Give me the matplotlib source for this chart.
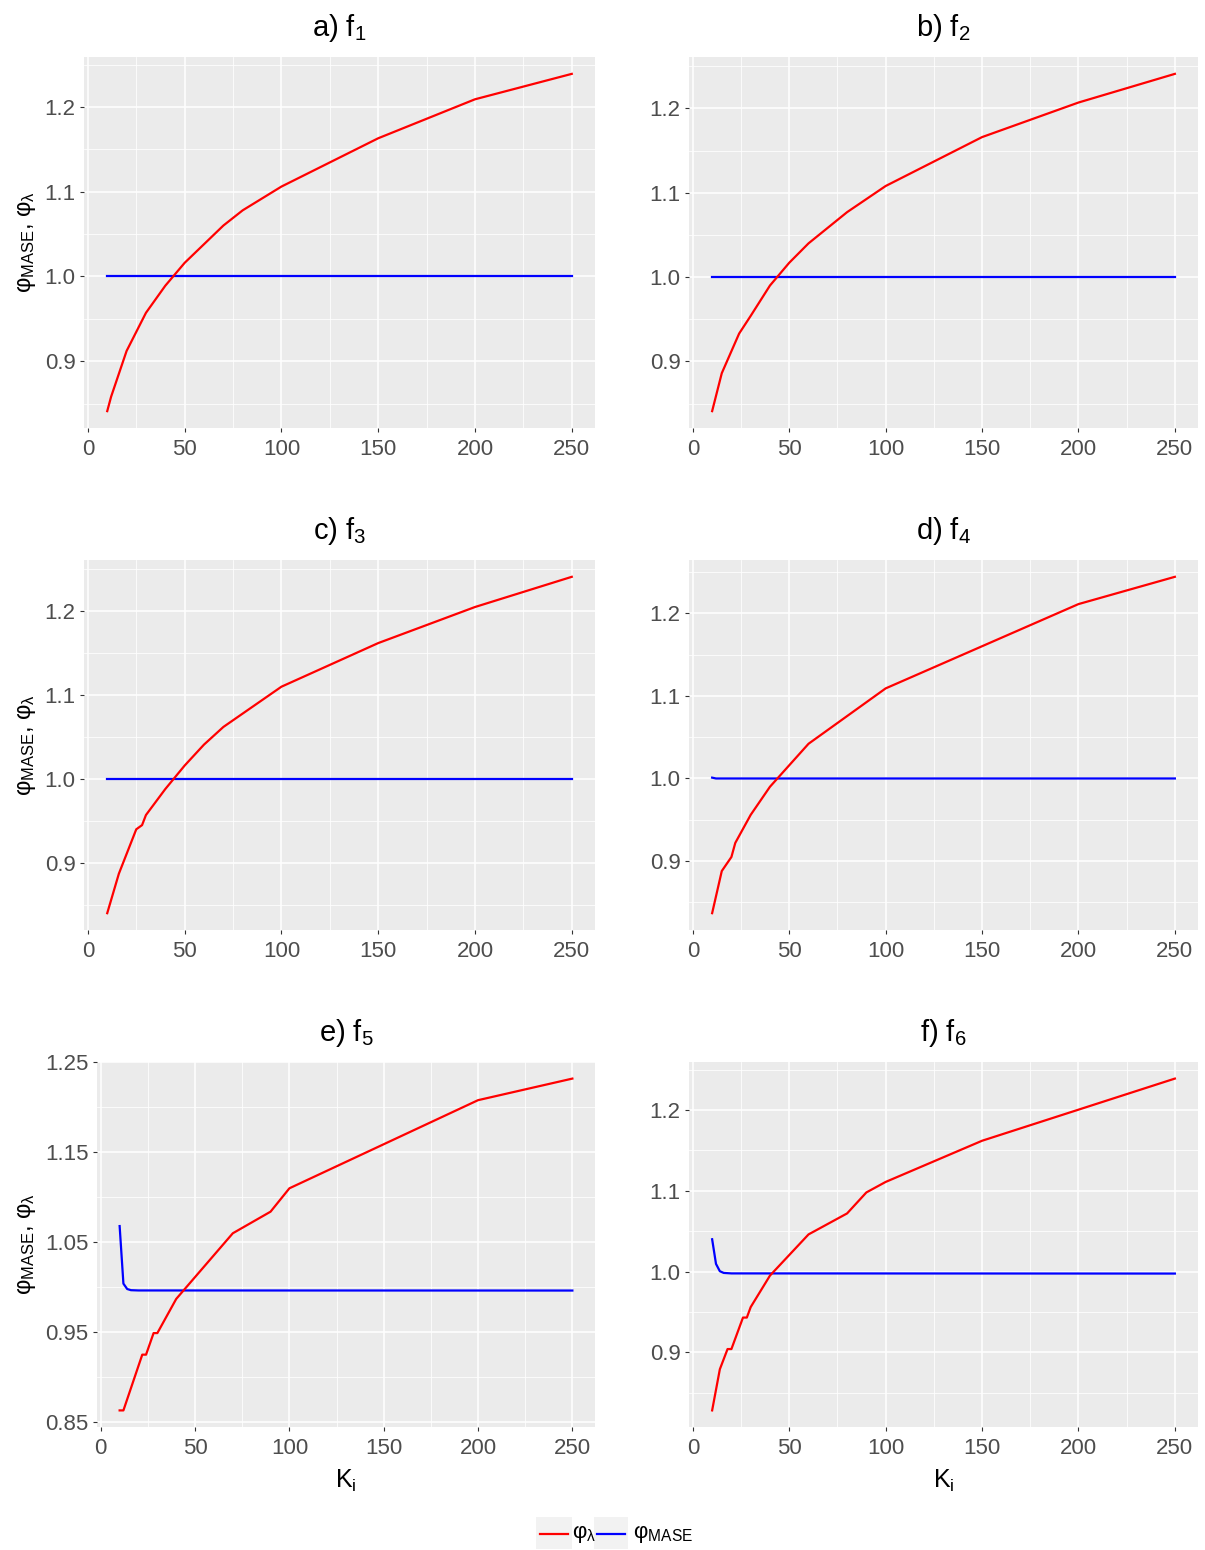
import numpy as np
import matplotlib
matplotlib.use("Agg")
import matplotlib.pyplot as plt
from matplotlib.patches import Rectangle
from matplotlib.lines import Line2D

plt.rcParams['font.family'] = ['Liberation Sans', 'DejaVu Sans']
plt.rcParams['mathtext.fontset'] = 'custom'
plt.rcParams['mathtext.rm'] = 'Liberation Sans'
plt.rcParams['mathtext.it'] = 'Liberation Sans:italic'
plt.rcParams['mathtext.bf'] = 'Liberation Sans:bold'

# ---------------------------------------
# Data
# ---------------------------------------
titles = ["a) f$_1$", "b) f$_2$", "c) f$_3$", "d) f$_4$", "e) f$_5$", "f) f$_6$"]

k_a = [10, 12, 20, 30, 40, 50, 70, 80, 100, 150, 200, 250]
lam_a = [0.841, 0.858, 0.912, 0.957, 0.989, 1.016, 1.060, 1.078, 1.106, 1.163, 1.209, 1.239]
km_a = [10, 250]
mase_a = [1.000, 1.000]

k_b = [10, 15, 24, 30, 40, 50, 60, 80, 100, 150, 200, 250]
lam_b = [0.841, 0.886, 0.933, 0.954, 0.990, 1.017, 1.040, 1.077, 1.108, 1.166, 1.207, 1.241]
km_b = [10, 250]
mase_b = [1.000, 1.000]

k_c = [10, 16, 25, 28, 30, 40, 50, 60, 70, 100, 150, 200, 250]
lam_c = [0.840, 0.887, 0.940, 0.945, 0.957, 0.988, 1.016, 1.041, 1.062, 1.110, 1.162, 1.205, 1.241]
km_c = [10, 250]
mase_c = [1.000, 1.000]

k_d = [10, 15, 20, 22, 30, 40, 60, 100, 200, 250]
lam_d = [0.837, 0.888, 0.905, 0.922, 0.956, 0.990, 1.042, 1.109, 1.211, 1.244]
km_d = [10, 12, 250]
mase_d = [1.001, 1.000, 1.000]

k_e = [10, 12, 22, 24, 28, 30, 40, 70, 90, 100, 200, 250]
lam_e = [0.863, 0.863, 0.925, 0.925, 0.949, 0.949, 0.987, 1.060, 1.084, 1.110, 1.208, 1.232]
km_e = [10, 12, 14, 16, 20, 250]
mase_e = [1.068, 1.004, 0.998, 0.9967, 0.9964, 0.9963]

k_f = [10, 14, 18, 20, 26, 28, 30, 40, 60, 80, 90, 100, 150, 250]
lam_f = [0.828, 0.879, 0.904, 0.904, 0.943, 0.943, 0.956, 0.995, 1.046, 1.072, 1.098, 1.111, 1.162, 1.239]
km_f = [10, 12, 14, 16, 20, 250]
mase_f = [1.040, 1.0095, 1.0004, 0.9983, 0.9977, 0.9975]

panels = [
    (k_a, lam_a, km_a, mase_a),
    (k_b, lam_b, km_b, mase_b),
    (k_c, lam_c, km_c, mase_c),
    (k_d, lam_d, km_d, mase_d),
    (k_e, lam_e, km_e, mase_e),
    (k_f, lam_f, km_f, mase_f),
]

# ---------------------------------------
# Layout (pixel boxes: left, top, right, bottom)
# ---------------------------------------
W, H = 1205, 1550
boxes = [
    (84, 57, 595, 428), (689, 57, 1198, 428),
    (84, 560, 595, 930), (689, 560, 1198, 930),
    (97, 1062, 595, 1427), (689, 1062, 1198, 1427),
]

fig = plt.figure(figsize=(W / 100, H / 100), dpi=100)

ylab = "φ$_{\\mathrm{MASE}}$, φ$_{\\mathrm{λ}}$"

for i, ((l, t, r, b), (k, lam, km, mase)) in enumerate(zip(boxes, panels)):
    ax = fig.add_axes([l / W, 1 - b / H, (r - l) / W, (b - t) / H])
    ax.set_facecolor('#EBEBEB')
    for s in ax.spines.values():
        s.set_visible(False)

    ax.plot(km, mase, color='#0000FF', lw=1.6, zorder=3)
    ax.plot(k, lam, color='#FF0000', lw=1.6, zorder=4)

    ax.set_xticks([0, 50, 100, 150, 200, 250])
    ax.set_xticks([25, 75, 125, 175, 225], minor=True)
    if i == 4:
        ax.set_yticks([0.85, 0.95, 1.05, 1.15, 1.25])
        ax.set_yticks([0.90, 1.00, 1.10, 1.20], minor=True)
        ax.set_yticklabels(["0.85", "0.95", "1.05", "1.15", "1.25"])
    else:
        ax.set_yticks([0.9, 1.0, 1.1, 1.2])
        ax.set_yticks([0.85, 0.95, 1.05, 1.15, 1.25], minor=True)
        ax.set_yticklabels(["0.9", "1.0", "1.1", "1.2"])
    ax.margins(0.05)

    ax.grid(which='major', color='white', lw=1.1)
    ax.grid(which='minor', color='white', lw=0.55)
    ax.set_axisbelow(True)
    ax.tick_params(which='major', direction='out', length=3, width=0.8,
                   color='#333333', labelcolor='#4D4D4D', labelsize=16, pad=3)
    ax.tick_params(axis='x', which='major', pad=5)
    ax.tick_params(which='minor', length=0)

    ax.set_title(titles[i], fontsize=21, pad=15)
    if i % 2 == 0:
        ax.set_ylabel(ylab, fontsize=17, labelpad=5)
    if i >= 4:
        ax.set_xlabel("K$_{\\mathrm{i}}$", fontsize=18, labelpad=6)

# ---------------------------------------
# Legend (ggplot-like keys)
# ---------------------------------------
def px(x, y):
    return x / W, 1 - y / H

fig.add_artist(Rectangle(px(536, 1549), 36 / W, 32 / H, transform=fig.transFigure,
                         facecolor='#F2F2F2', edgecolor='none'))
fig.add_artist(Rectangle(px(594, 1549), 34 / W, 32 / H, transform=fig.transFigure,
                         facecolor='#F2F2F2', edgecolor='none'))
x0, y0 = px(540, 1534)
x1, _ = px(568, 1534)
fig.add_artist(Line2D([x0, x1], [y0, y0], transform=fig.transFigure, color='#FF0000', lw=1.6))
x0, _ = px(597, 1534)
x1, _ = px(625, 1534)
fig.add_artist(Line2D([x0, x1], [y0, y0], transform=fig.transFigure, color='#0000FF', lw=1.6))
fig.text(*px(572, 1534), "φ$_{\\mathrm{λ}}$", fontsize=16, va='center', ha='left')
fig.text(*px(633, 1534), "φ$_{\\mathrm{MASE}}$", fontsize=16, va='center', ha='left')

fig.savefig("out.png", dpi=100)
